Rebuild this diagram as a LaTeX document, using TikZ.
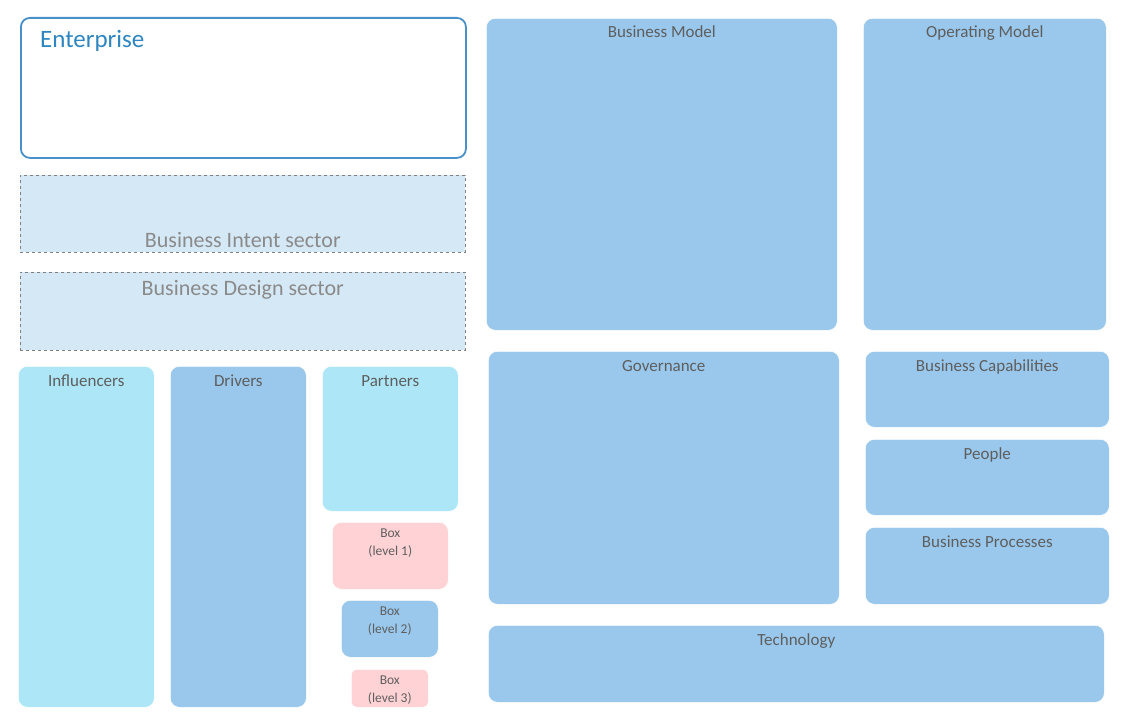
\documentclass[tikz,border=0pt]{standalone}
\usepackage{fontspec}
\setmainfont{Carlito}
\usetikzlibrary{positioning}

\definecolor{panelblue}{HTML}{99C8EC}
\definecolor{panelcyan}{HTML}{ADE7F7}
\definecolor{panelpink}{HTML}{FFD3D5}
\definecolor{sectorfill}{HTML}{D5E8F5}
\definecolor{entline}{HTML}{4A90C8}
\definecolor{enttext}{HTML}{2E86C1}
\definecolor{lbltext}{HTML}{5E5E5E}
\definecolor{sectortext}{HTML}{8A8A8A}

\tikzset{
  panel/.style={rectangle, rounded corners=9pt, draw=white, line width=0.6pt, anchor=north west, inner sep=0pt},
  bluepanel/.style={panel, fill=panelblue},
  cyanpanel/.style={panel, fill=panelcyan},
  pinkpanel/.style={panel, fill=panelpink},
  sector/.style={rectangle, draw=gray, dashed, line width=0.6pt, fill=sectorfill, anchor=north west, inner sep=0pt},
  lbl/.style={inner sep=0pt, anchor=base, text=lbltext, font=\fontsize{17pt}{19pt}\selectfont},
  smalllbl/.style={inner sep=0pt, anchor=base, text=lbltext, align=center, font=\fontsize{13.5pt}{18pt}\selectfont},
  sectorlbl/.style={inner sep=0pt, anchor=base, text=sectortext, font=\fontsize{22pt}{24pt}\selectfont}
}

\begin{document}
\begin{tikzpicture}[x=1pt, y=-1pt]
    \useasboundingbox (0,0) rectangle (1125,725);

    % left column
    \node[panel, draw=entline, line width=1.8pt, fill=white, minimum width=445pt, minimum height=140pt] (ent) at (20,17) {};
    \node[inner sep=0pt, anchor=base west, text=enttext, font=\fontsize{25pt}{27pt}\selectfont] (entlbl) at (40,48) {Enterprise};

    \node[sector, minimum width=445pt, minimum height=77pt] (intent) at (20,175) {};
    \node[sectorlbl] (intentlbl) at ([yshift=5pt]intent.south) {Business Intent sector};

    \node[sector, minimum width=445pt, minimum height=78pt] (design) at (20,272) {};
    \node[sectorlbl] (designlbl) at ([yshift=-23pt]design.north) {Business Design sector};

    \node[cyanpanel, minimum width=136pt, minimum height=341pt] (infl) at (18,366) {};
    \node[lbl] (infllbl) at ([yshift=-20pt]infl.north) {Influencers};

    \node[bluepanel, minimum width=136pt, minimum height=341pt] (drv) at (170,366) {};
    \node[lbl] (drvlbl) at ([yshift=-20pt]drv.north) {Drivers};

    \node[cyanpanel, minimum width=136pt, minimum height=145pt] (prt) at (322,366) {};
    \node[lbl] (prtlbl) at ([yshift=-20pt]prt.north) {Partners};

    % legend boxes
    \node[pinkpanel, minimum width=116pt, minimum height=67pt] (lvla) at (332,522) {};
    \node[smalllbl] (lvlalbl) at ([yshift=-33pt]lvla.north) {Box\\(level 1)};

    \node[bluepanel, minimum width=97pt, minimum height=57pt] (lvlb) at (341,600) {};
    \node[smalllbl] (lvlblbl) at ([yshift=-33pt]lvlb.north) {Box\\(level 2)};

    \node[pinkpanel, rounded corners=5pt, minimum width=77pt, minimum height=38pt] (lvlc) at (351,669) {};
    \node[smalllbl] (lvlclbl) at ([yshift=-33pt]lvlc.north) {Box\\(level 3)};

    % right block
    \node[bluepanel, minimum width=351pt, minimum height=312pt] (bm) at (486,18) {};
    \node[lbl] (bmlbl) at ([yshift=-20pt]bm.north) {Business Model};

    \node[bluepanel, minimum width=243pt, minimum height=312pt] (om) at (863,18) {};
    \node[lbl] (omlbl) at ([yshift=-20pt]om.north) {Operating Model};

    \node[bluepanel, minimum width=351pt, minimum height=253pt] (gov) at (488,351) {};
    \node[lbl] (govlbl) at ([yshift=-20pt]gov.north) {Governance};

    \node[bluepanel, minimum width=244pt, minimum height=76pt] (cap) at (865,351) {};
    \node[lbl] (caplbl) at ([yshift=-20pt]cap.north) {Business Capabilities};

    \node[bluepanel, minimum width=244pt, minimum height=76pt] (ppl) at (865,439) {};
    \node[lbl] (ppllbl) at ([yshift=-20pt]ppl.north) {People};

    \node[bluepanel, minimum width=244pt, minimum height=77pt] (proc) at (865,527) {};
    \node[lbl] (proclbl) at ([yshift=-20pt]proc.north) {Business Processes};

    \node[bluepanel, minimum width=616pt, minimum height=77pt] (tech) at (488,625) {};
    \node[lbl] (techlbl) at ([yshift=-20pt]tech.north) {Technology};
\end{tikzpicture}
\end{document}
